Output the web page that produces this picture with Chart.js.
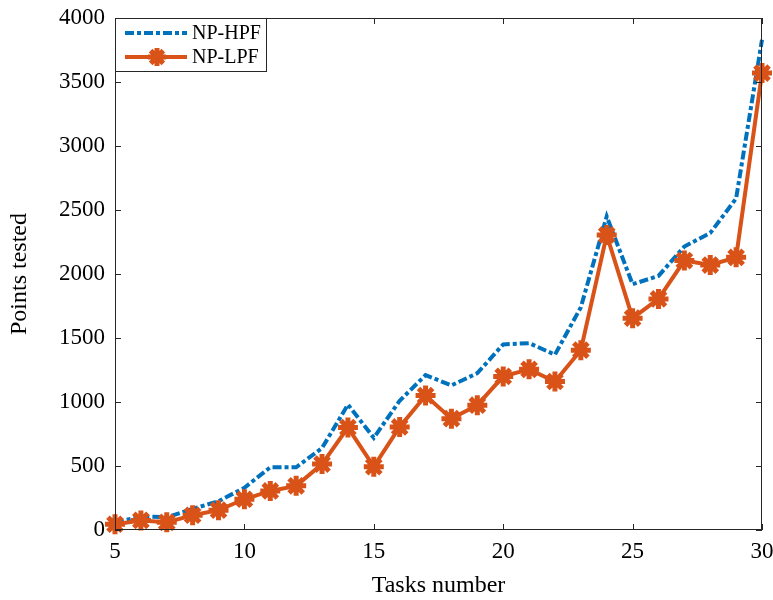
<!DOCTYPE html>
<html lang="en">
<head>
<meta charset="UTF-8">
<title>Points tested vs tasks number</title>
<script src="https://cdn.jsdelivr.net/npm/chart.js"></script>
<style>
    html, body { margin: 0; padding: 0; background: #fff; }
    #wrap { width: 773px; height: 600px; position: relative; }
</style>
</head>
<body>
<div id="wrap"><canvas id="chart" width="773" height="600"></canvas></div>
<script>
    // data
    const tasks = [5,6,7,8,9,10,11,12,13,14,15,16,17,18,19,20,21,22,23,24,25,26,27,28,29,30];
    const npHpf = [60,105,100,165,225,330,490,490,640,980,720,1010,1210,1130,1225,1450,1460,1370,1740,2450,1920,1985,2215,2320,2590,3830];
    const npLpf = [45,75,60,115,155,240,305,345,515,800,495,805,1050,870,975,1200,1255,1160,1405,2305,1655,1805,2105,2070,2130,3570];
    const yTicks = [0,500,1000,1500,2000,2500,3000,3500,4000];

    const BLUE = '#0072BD';
    const ORANGE = '#D95319';
    const FONT = "'Liberation Serif', 'Times New Roman', serif";

    // box around plot, inward ticks on all four sides, legend box
    const matlabAxes = {
        id: 'matlabAxes',
        afterDraw(chart) {
            const { ctx, chartArea: a, scales } = chart;
            ctx.save();
            ctx.strokeStyle = '#262626';
            ctx.lineWidth = 1;
            ctx.strokeRect(a.left + 0.5, a.top + 0.5, a.right - a.left - 1, a.bottom - a.top - 1);
            const len = 6;
            ctx.beginPath();
            tasks.filter(t => t % 5 === 0).forEach(t => {
                const x = Math.round(scales.x.getPixelForValue(t)) + 0.5;
                ctx.moveTo(x, a.bottom); ctx.lineTo(x, a.bottom - len);
                ctx.moveTo(x, a.top); ctx.lineTo(x, a.top + len);
            });
            yTicks.forEach(v => {
                const y = Math.round(scales.y.getPixelForValue(v)) + 0.5;
                ctx.moveTo(a.left, y); ctx.lineTo(a.left + len, y);
                ctx.moveTo(a.right, y); ctx.lineTo(a.right - len, y);
            });
            ctx.stroke();

            // legend
            const lx = a.left, ly = a.top, lw = 151, lh = 53;
            ctx.fillStyle = '#fff';
            ctx.fillRect(lx, ly, lw, lh);
            ctx.strokeStyle = '#262626';
            ctx.strokeRect(lx + 0.5, ly + 0.5, lw, lh);
            ctx.lineWidth = 4;
            ctx.strokeStyle = BLUE;
            ctx.setLineDash([9, 3, 4, 3]);
            ctx.beginPath(); ctx.moveTo(lx + 10, ly + 15); ctx.lineTo(lx + 72, ly + 15); ctx.stroke();
            ctx.setLineDash([]);
            ctx.strokeStyle = ORANGE;
            ctx.fillStyle = ORANGE;
            ctx.beginPath(); ctx.moveTo(lx + 10, ly + 39); ctx.lineTo(lx + 72, ly + 39); ctx.stroke();
            ctx.lineWidth = 5;
            Chart.helpers.drawPoint(ctx, { pointStyle: 'star', radius: 9, borderWidth: 5 }, lx + 42, ly + 39);
            ctx.fillStyle = '#000';
            ctx.font = '20px ' + FONT;
            ctx.textBaseline = 'middle';
            ctx.fillText('NP-HPF', lx + 77, ly + 16);
            ctx.fillText('NP-LPF', lx + 77, ly + 40);
            ctx.restore();
        }
    };

    new Chart(document.getElementById('chart'), {
        type: 'line',
        data: {
            datasets: [
                {
                    label: 'NP-LPF',
                    data: tasks.map((t, i) => ({ x: t, y: npLpf[i] })),
                    borderColor: ORANGE,
                    backgroundColor: ORANGE,
                    borderWidth: 4,
                    pointStyle: 'star',
                    pointRadius: 10,
                    pointBorderWidth: 5,
                    pointBorderColor: ORANGE,
                    tension: 0,
                    clip: false,
                    order: 0
                },
                {
                    label: 'NP-HPF',
                    data: tasks.map((t, i) => ({ x: t, y: npHpf[i] })),
                    borderColor: BLUE,
                    borderWidth: 4,
                    borderDash: [9, 3, 4, 3],
                    pointRadius: 0,
                    tension: 0,
                    clip: false,
                    order: 1
                }
            ]
        },
        options: {
            responsive: false,
            animation: false,
            layout: { autoPadding: false, padding: { top: 18, right: 11, left: 0, bottom: 0 } },
            plugins: { legend: { display: false }, tooltip: { enabled: false } },
            scales: {
                x: {
                    type: 'linear', min: 5, max: 30,
                    grid: { display: false },
                    border: { display: false },
                    ticks: { stepSize: 5, padding: 0, color: '#000', font: { family: FONT, size: 23 }, maxRotation: 0, autoSkip: false, callback: v => String(v) },
                    title: { display: true, text: 'Tasks number', color: '#000', font: { family: FONT, size: 24 }, padding: { top: 0, bottom: 0 } },
                    afterFit(s) { s.height = 70; s.paddingLeft = 0; s.paddingRight = 0; }
                },
                y: {
                    min: 0, max: 4000,
                    grid: { display: false },
                    border: { display: false },
                    afterBuildTicks(s) { s.ticks = yTicks.map(v => ({ value: v })); },
                    ticks: { padding: 2, color: '#000', font: { family: FONT, size: 23 }, autoSkip: false, callback: v => String(v) },
                    title: { display: true, text: 'Points tested', color: '#000', font: { family: FONT, size: 24 }, padding: { top: 5, bottom: 0 } },
                    afterFit(s) { s.width = 115; s.paddingTop = 0; s.paddingBottom = 0; }
                }
            }
        },
        plugins: [matlabAxes]
    });
</script>
</body>
</html>
